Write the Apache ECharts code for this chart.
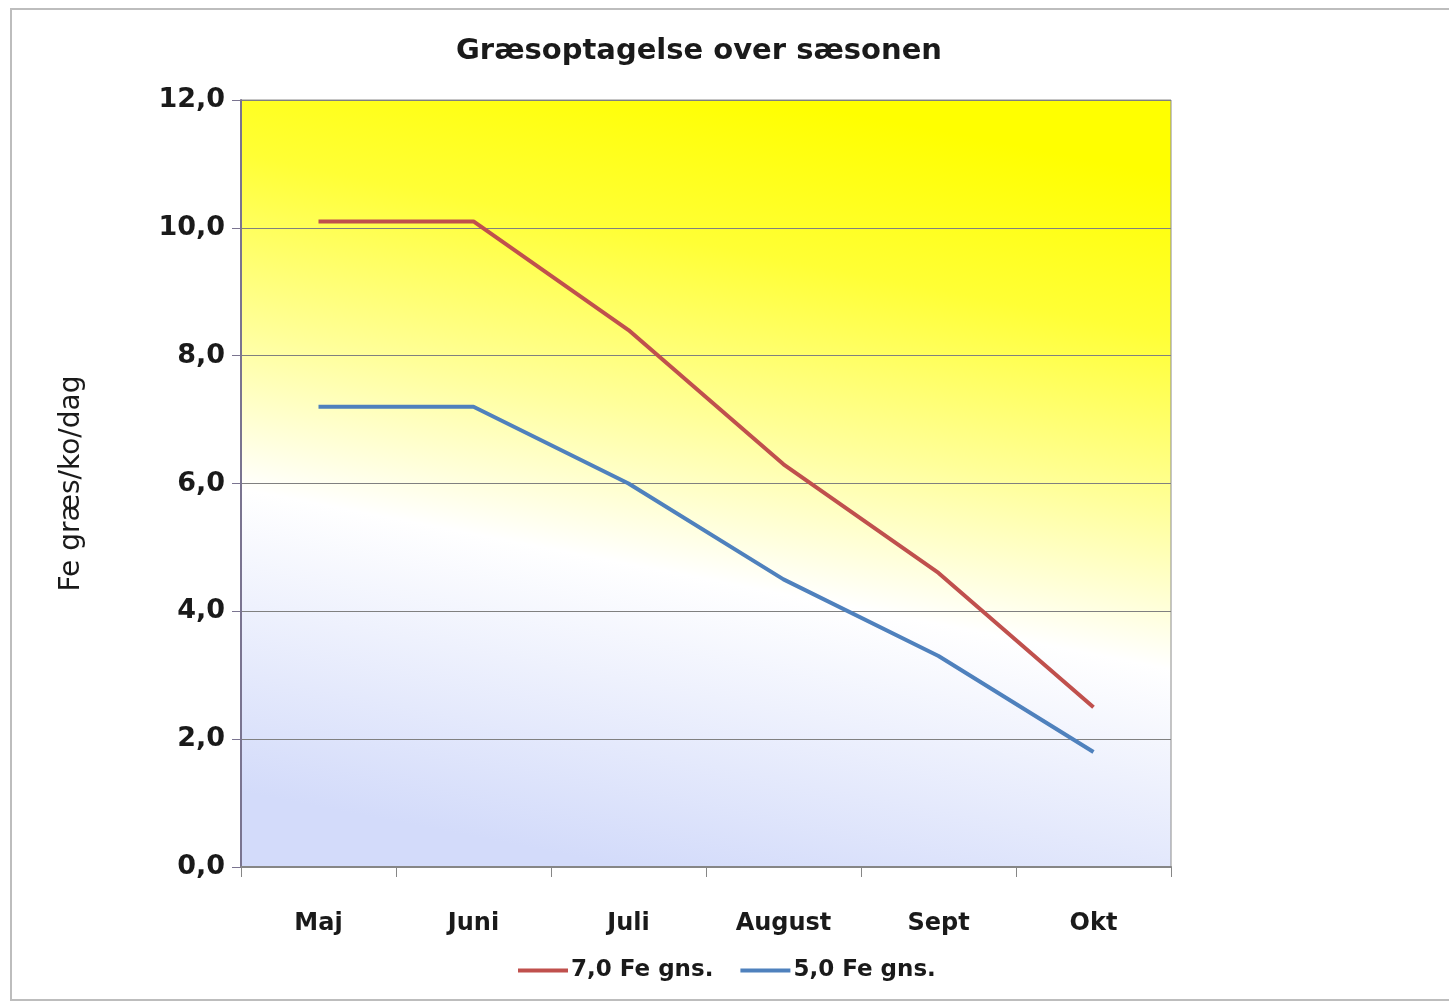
<!DOCTYPE html>
<html>
<head>
<meta charset="utf-8">
<script src="https://cdn.jsdelivr.net/npm/echarts@6/dist/echarts.min.js"></script>
<style>
    html, body { margin: 0; padding: 0; background: #fff; }
    #chart { width: 1449px; height: 1006px; }
</style>
</head>
<body>
<div id="chart"></div>
<script>
// data
var months = ['Maj', 'Juni', 'Juli', 'August', 'Sept', 'Okt'];
var fe70 = [10.1, 10.1, 8.4, 6.3, 4.6, 2.5];
var fe50 = [7.2, 7.2, 6.0, 4.5, 3.3, 1.8];
var seriesNames = ['7,0 Fe gns.', '5,0 Fe gns.'];

var font = '"DejaVu Sans", sans-serif';
var chart = echarts.init(document.getElementById('chart'));

var option = {
    animation: false,
    title: {
        text: 'Græsoptagelse over sæsonen',
        left: 694,
        textAlign: 'center',
        top: 32,
        textStyle: { fontFamily: font, fontSize: 29, fontWeight: 'bold', color: '#1a1a1a' }
    },
    legend: {
        left: 513,
        top: 954,
        icon: 'rect',
        itemWidth: 50,
        itemHeight: 4,
        itemGap: 27,
        textStyle: { fontFamily: font, fontSize: 23, fontWeight: 'bold', color: '#1a1a1a', padding: [0, 0, 0, -2] },
        data: seriesNames
    },
    grid: {
        left: 241,
        right: 278,
        top: 100,
        bottom: 139,
        show: true,
        borderColor: '#8c8c8c',
        borderWidth: 1,
        backgroundColor: new echarts.graphic.LinearGradient(0.42, 1, 0.58, 0, [
            { offset: 0, color: '#d3dbfa' },
            { offset: 0.38, color: '#ffffff' },
            { offset: 0.58, color: '#ffff9a' },
            { offset: 0.8, color: '#ffff35' },
            { offset: 1, color: '#ffff00' }
        ])
    },
    graphic: [{
        type: 'rect',
        shape: { x: 11, y: 9, width: 1460, height: 991 },
        style: { fill: 'none', stroke: '#bdbdbd', lineWidth: 2 },
        silent: true,
        z: -10
    }],
    xAxis: {
        type: 'category',
        data: months,
        boundaryGap: true,
        axisLine: { lineStyle: { color: '#868686', width: 2 } },
        axisTick: { show: true, length: 10, lineStyle: { color: '#868686' } },
        axisLabel: { margin: 45, fontFamily: font, fontSize: 24, fontWeight: 'bold', color: '#1a1a1a' }
    },
    yAxis: {
        type: 'value',
        min: 0,
        max: 12,
        interval: 2,
        name: 'Fe græs/ko/dag',
        nameLocation: 'middle',
        nameGap: 155,
        nameTextStyle: { fontFamily: font, fontSize: 28, color: '#1a1a1a' },
        axisLine: { show: true, lineStyle: { color: '#7a7490', width: 2 } },
        axisTick: { show: true, length: 9, lineStyle: { color: '#7a7490' } },
        splitLine: { lineStyle: { color: '#808080', width: 1 } },
        axisLabel: {
            margin: 16,
            fontFamily: font, fontSize: 27, fontWeight: 'bold', color: '#1a1a1a',
            formatter: function (v) { return v.toFixed(1).replace('.', ','); }
        }
    },
    series: [
        {
            name: seriesNames[0],
            type: 'line',
            data: fe70,
            symbol: 'none',
            lineStyle: { color: '#c0504d', width: 4 },
            itemStyle: { color: '#c0504d' }
        },
        {
            name: seriesNames[1],
            type: 'line',
            data: fe50,
            symbol: 'none',
            lineStyle: { color: '#4f81bd', width: 4 },
            itemStyle: { color: '#4f81bd' }
        }
    ]
};
chart.setOption(option);
</script>
</body>
</html>
